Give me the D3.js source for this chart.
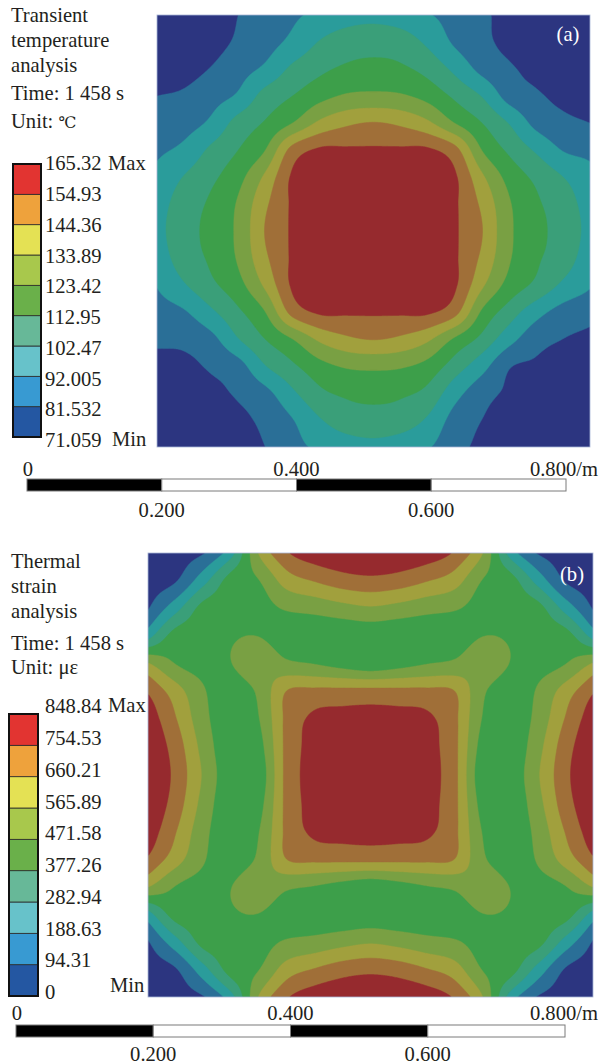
<!DOCTYPE html>
<html><head><meta charset="utf-8">
<script src="https://cdn.jsdelivr.net/npm/d3@7"></script>
<style>html,body{margin:0;padding:0;background:#fff;}svg{display:block;}</style>
</head><body>
<svg id="chart" width="600" height="1064"></svg>
<script>
// ---------------- data ----------------
// Legend levels (top label = Max, bottom = Min)
const levelsA = [71.059, 81.532, 92.005, 102.47, 112.95, 123.42, 133.89, 144.36, 154.93, 165.32];
const levelLabelsA = ["165.32","154.93","144.36","133.89","123.42","112.95","102.47","92.005","81.532","71.059"];
const levelsB = [0, 94.31, 188.63, 282.94, 377.26, 471.58, 565.89, 660.21, 754.53, 848.84];
const levelLabelsB = ["848.84","754.53","660.21","565.89","471.58","377.26","282.94","188.63","94.31","0"];

// (a) temperature (°C) on a 17x17 grid over the plate (row 0 = top edge)
const fieldA = [
  [71.1, 72.5, 76.0, 81.5, 85.8, 90.1, 94.5, 98.0, 99.5, 97.0, 92.8, 88.0, 83.2, 78.5, 74.5, 72.0, 71.1],
  [72.5, 76.0, 78.0, 83.0, 88.0, 94.5,102.9,107.3,108.3,107.3,100.5, 90.5, 84.0, 79.0, 75.5, 73.5, 71.8],
  [76.0, 78.0, 82.0, 88.0, 94.0,104.5,110.6,114.7,116.4,114.7,109.5,100.0, 89.0, 83.0, 78.5, 75.5, 73.8],
  [81.5, 83.0, 88.0, 93.5,106.4,112.9,119.8,124.6,125.5,124.6,119.8,111.0,102.0, 88.0, 83.0, 79.0, 77.2],
  [85.8, 88.0, 94.0,106.4,113.9,123.3,135.8,142.3,144.8,142.3,135.8,123.3,113.0,102.0, 89.0, 84.0, 81.5],
  [90.1, 94.5,104.5,112.9,123.3,148.0,156.3,156.3,156.2,156.3,156.3,148.0,123.3,111.0,101.0, 91.5, 89.2],
  [94.5,102.9,110.6,119.8,135.8,156.3,163.0,163.3,163.5,163.3,163.0,156.3,135.8,119.8,110.6,102.5, 95.0],
  [98.0,107.3,114.7,124.6,142.3,156.3,163.3,165.0,165.0,165.0,163.3,156.3,142.3,124.6,114.7,107.3, 98.0],
  [99.5,108.3,116.4,125.5,144.8,156.2,163.5,165.0,165.3,165.0,163.5,156.2,144.8,125.5,116.4,108.3, 99.5],
  [97.0,107.3,114.7,124.6,142.3,156.3,163.3,165.0,165.0,165.0,163.3,156.3,142.3,124.6,114.7,107.3, 97.0],
  [92.5,101.5,110.6,119.8,135.8,156.3,163.0,163.3,163.5,163.3,163.0,156.3,135.8,119.8,110.6,100.5, 93.0],
  [87.5, 91.0,100.5,111.0,123.3,148.0,156.3,156.3,156.2,156.3,156.3,148.0,122.0,108.0, 96.0, 88.0, 84.5],
  [83.0, 84.0, 89.0,102.0,113.0,123.3,135.8,142.3,144.8,142.3,135.8,122.0,110.0, 96.0, 85.5, 81.5, 79.5],
  [78.8, 79.0, 83.0, 88.0,102.0,111.0,119.8,124.6,125.5,124.6,119.8,108.0, 96.0, 82.5, 80.0, 77.5, 75.5],
  [74.5, 75.5, 78.5, 83.0, 89.0,100.5,110.6,114.7,116.4,114.7,110.0, 96.0, 85.5, 80.0, 77.0, 74.5, 73.0],
  [72.0, 73.5, 75.5, 79.0, 84.0, 91.5,101.5,107.3,108.3,107.3,101.0, 88.0, 81.5, 77.5, 74.5, 72.8, 71.6],
  [71.1, 71.8, 73.8, 77.2, 81.5, 88.5, 94.0, 97.5, 99.5, 97.0, 93.0, 84.5, 79.5, 75.5, 73.0, 71.6, 71.1]
];
// (b) thermal strain (με) read on a 9x9 grid over the top-left quarter (row/col 8 = centre);
// this field is symmetric about both centre lines.
const quarterB = [
  [  0,  45,  88, 250, 575, 745, 815, 840, 848],
  [ 45,  88, 250, 420, 470, 610, 665, 710, 728],
  [ 88, 250, 410, 420, 440, 480, 500, 530, 552],
  [250, 420, 420, 462, 470, 420, 405, 400, 405],
  [575, 470, 440, 470, 535, 490, 470, 440, 415],
  [745, 610, 480, 420, 490, 665, 685, 688, 690],
  [815, 665, 500, 405, 470, 685, 775, 790, 795],
  [840, 710, 530, 400, 440, 688, 790, 828, 833],
  [848, 728, 552, 405, 415, 690, 795, 833, 848.8]
];

const scaleValues = [0, 0.2, 0.4, 0.6, 0.8];
const scaleLabels = ["0", "0.200", "0.400", "0.600", "0.800/m"];

const titleA = ["Transient", "temperature", "analysis"];
const titleB = ["Thermal", "strain", "analysis"];
const timeText = "Time: 1 458 s";
const unitA = ["Unit: ", "\u2103"];
const unitB = ["Unit: ", "\u03bc\u03b5"];

// ---------------- styles ----------------
const plotColors = ["#2c3580","#2a6f97","#2a9c9b","#3a9f79","#3d9f4a","#79a043","#a1a03d","#a06f38","#962a2e"];
const legendColors = ["#2457a2","#389ad2","#67c2ca","#67b898","#6ab04a","#a8c84c","#e4e154","#eea23c","#e23431"];
const FONT = "'Liberation Serif','Times New Roman',serif";
const FS = 20.6;
const TXT = "#231f20";

const svg = d3.select("#chart");

function mirrorQuarter(q) {
  const m = k => (k <= 8 ? k : 16 - k);
  return d3.range(17).map(j => d3.range(17).map(i => q[m(j)][m(i)]));
}
// smooth rendering of the grid (Catmull-Rom surface) at pixel resolution
function renderField(g, n, lo, hi) {
  const N = g.length;
  const at = (j, i) => {
    if (i < 0) return 2 * at(j, 0) - at(j, 1);
    if (i > N - 1) return 2 * at(j, N - 1) - at(j, N - 2);
    if (j < 0) return 2 * at(0, i) - at(1, i);
    if (j > N - 1) return 2 * at(N - 1, i) - at(N - 2, i);
    return g[j][i];
  };
  const cr = (p0, p1, p2, p3, t) =>
    0.5 * (2 * p1 + (-p0 + p2) * t + (2 * p0 - 5 * p1 + 4 * p2 - p3) * t * t + (-p0 + 3 * p1 - 3 * p2 + p3) * t * t * t);
  const vals = new Float64Array(n * n);
  for (let py = 0; py < n; py++) {
    const v = (py + 0.5) / n * (N - 1);
    const j = Math.min(N - 2, Math.floor(v)); const ty = v - j;
    for (let px = 0; px < n; px++) {
      const u = (px + 0.5) / n * (N - 1);
      const i = Math.min(N - 2, Math.floor(u)); const tx = u - i;
      const rows = [-1, 0, 1, 2].map(d => cr(at(j + d, i - 1), at(j + d, i), at(j + d, i + 1), at(j + d, i + 2), tx));
      const val = cr(rows[0], rows[1], rows[2], rows[3], ty);
      vals[py * n + px] = Math.max(lo, Math.min(hi, val));
    }
  }
  return vals;
}

function drawPanel(cfg) {
  const { plot, grid, levels, labels, bar, labelY, maxPos, minPos, title, unit, unitFont, titleY, letter, letterPos, scale } = cfg;
  const id = "clip" + letter.replace(/\W/g, "");
  svg.append("clipPath").attr("id", id).append("rect")
    .attr("x", plot.x).attr("y", plot.y).attr("width", plot.w).attr("height", plot.h);
  const gPlot = svg.append("g").attr("clip-path", `url(#${id})`);
  gPlot.append("rect").attr("x", plot.x).attr("y", plot.y).attr("width", plot.w).attr("height", plot.h)
    .attr("fill", plotColors[0]);
  const n = Math.round(plot.w);
  const vals = renderField(grid, n, levels[0], levels[levels.length - 1]);
  const inner = levels.slice(1, levels.length - 1);
  const contours = d3.contours().size([n, n]).thresholds(inner)(vals);
  const path = d3.geoPath(d3.geoIdentity().scale(plot.w / n).translate([plot.x, plot.y]));
  gPlot.selectAll("path.band").data(contours).join("path")
    .attr("class", "band")
    .attr("d", path)
    .attr("transform", `translate(0,${plot.y}) scale(1,${plot.h / plot.w}) translate(0,${-plot.y})`)
    .attr("fill", (d, k) => plotColors[k + 1])
    .attr("stroke", (d, k) => plotColors[k + 1]).attr("stroke-width", 0.5);
  svg.append("rect").attr("x", plot.x).attr("y", plot.y).attr("width", plot.w).attr("height", plot.h)
    .attr("fill", "none").attr("stroke", "#a9b6d6").attr("stroke-width", 0.8);
  svg.append("text").attr("x", letterPos[0]).attr("y", letterPos[1]).attr("text-anchor", "middle")
    .attr("font-family", FONT).attr("font-size", FS).attr("fill", "#fff").text(letter);

  // legend bar
  const yb = d3.scaleLinear().domain([0, levels.length - 1]).range([bar.y + bar.h, bar.y]);
  const gl = svg.append("g");
  gl.selectAll("rect.lb").data(d3.range(levels.length - 1)).join("rect")
    .attr("x", bar.x).attr("y", k => yb(k + 1)).attr("width", bar.w).attr("height", k => yb(k) - yb(k + 1))
    .attr("fill", k => legendColors[k]).attr("stroke", "#2a2a2a").attr("stroke-width", 0.8);
  gl.append("rect").attr("x", bar.x).attr("y", bar.y).attr("width", bar.w).attr("height", bar.h)
    .attr("fill", "none").attr("stroke", "#111").attr("stroke-width", 2);
  const yl = d3.scaleLinear().domain([0, labels.length - 1]).range(labelY);
  gl.selectAll("text.ll").data(labels).join("text")
    .attr("x", 45).attr("y", (d, k) => yl(k)).attr("dy", "0.35em")
    .attr("font-family", FONT).attr("font-size", FS).attr("fill", TXT).text(d => d);
  gl.append("text").attr("x", maxPos[0]).attr("y", maxPos[1]).attr("dy", "0.35em")
    .attr("font-family", FONT).attr("font-size", FS).attr("fill", TXT).text("Max");
  gl.append("text").attr("x", minPos[0]).attr("y", minPos[1]).attr("dy", "0.35em")
    .attr("font-family", FONT).attr("font-size", FS).attr("fill", TXT).text("Min");

  // titles
  const lines = title.concat([timeText]);
  const gt = svg.append("g").attr("font-family", FONT).attr("font-size", FS).attr("fill", TXT);
  gt.selectAll("text").data(lines).join("text")
    .attr("x", 11).attr("y", (d, k) => titleY[k]).text(d => d);
  const ut = gt.append("text").attr("x", 11).attr("y", titleY[lines.length]);
  ut.append("tspan").text(unit[0]);
  ut.append("tspan").attr("font-family", unitFont.family).attr("font-size", unitFont.size).text(unit[1]);

  // scale bar
  const xs = d3.scaleLinear().domain([0, 0.8]).range([scale.x0, scale.x1]);
  const gs = svg.append("g");
  gs.selectAll("rect").data(d3.range(4)).join("rect")
    .attr("x", k => xs(scaleValues[k])).attr("y", scale.y).attr("width", k => xs(scaleValues[k + 1]) - xs(scaleValues[k]))
    .attr("height", scale.h).attr("fill", k => (k % 2 === 0 ? "#000" : "#fff"))
    .attr("stroke", "#7a7a7a").attr("stroke-width", 1);
  scaleValues.forEach((v, k) => {
    const top = k % 2 === 0;
    const anchor = k === 4 ? "end" : "middle";
    const x = k === 4 ? 598 : xs(v) + (k === 0 ? 1 : 0);
    gs.append("text").attr("x", x).attr("y", top ? scale.topBase : scale.botBase)
      .attr("text-anchor", anchor).attr("font-family", FONT).attr("font-size", FS).attr("fill", TXT)
      .text(scaleLabels[k]);
  });
}

drawPanel({
  plot: { x: 157, y: 15, w: 433, h: 432 },
  grid: fieldA, levels: levelsA, labels: levelLabelsA,
  bar: { x: 13, y: 164, w: 28, h: 273 }, labelY: [163, 440],
  maxPos: [108, 163], minPos: [112, 439],
  title: titleA, unit: unitA, unitFont: { family: "'DejaVu Serif','Liberation Serif',serif", size: 16 },
  titleY: [22, 47, 72, 100, 128],
  letter: "(a)", letterPos: [568, 41],
  scale: { x0: 27, x1: 566, y: 479, h: 12, topBase: 476, botBase: 517 }
});
drawPanel({
  plot: { x: 148, y: 553, w: 445, h: 444 },
  grid: mirrorQuarter(quarterB), levels: levelsB, labels: levelLabelsB,
  bar: { x: 9, y: 714, w: 29, h: 282 }, labelY: [706, 992],
  maxPos: [108, 705], minPos: [110, 985],
  title: titleB, unit: unitB, unitFont: { family: FONT, size: FS },
  titleY: [568, 593, 618, 650, 674],
  letter: "(b)", letterPos: [572, 581],
  scale: { x0: 16, x1: 565, y: 1025, h: 12, topBase: 1020, botBase: 1061 }
});
</script>
</body></html>
